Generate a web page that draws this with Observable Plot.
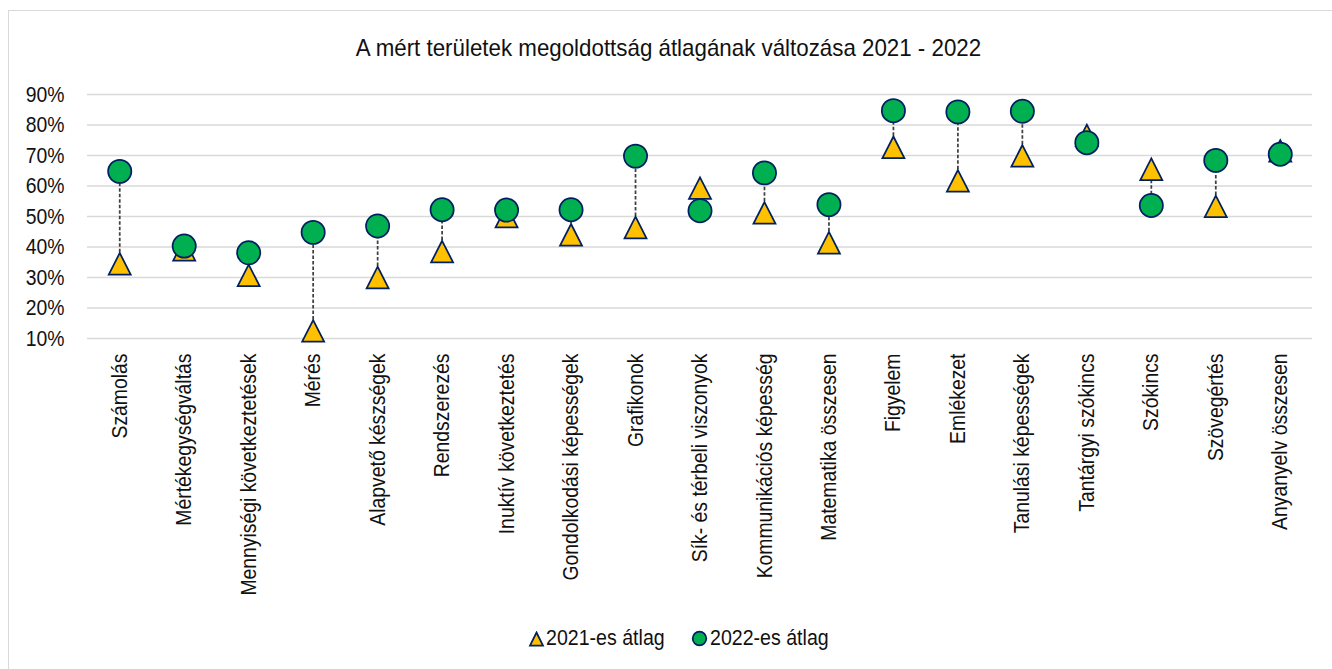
<!DOCTYPE html>
<html>
<head>
<meta charset="utf-8">
<script src="https://cdn.jsdelivr.net/npm/d3@7"></script>
<script src="https://cdn.jsdelivr.net/npm/@observablehq/plot@0.6"></script>
<style>
  html, body { margin: 0; padding: 0; background: #fff; overflow: hidden; width: 1332px; height: 669px; }
  body { position: relative; font-family: "Liberation Sans", Arial, sans-serif; color: #111; }
  #frame { position: absolute; left: 8px; top: 10px; width: 1400px; height: 800px; border: 1px solid #d9d9d9; box-sizing: border-box; }
  #chart { position: absolute; left: 0; top: 0; }
  #title { position: absolute; left: 0; width: 1337px; top: 36px; text-align: center; font-size: 24px; line-height: 24px; white-space: nowrap; transform: scaleX(0.93); transform-origin: 668px 0; }
  .leg-text { position: absolute; top: 627px; font-size: 22px; line-height: 22px; white-space: nowrap; transform: scaleX(0.89); transform-origin: 0 0; }
  .leg-icon { position: absolute; }
</style>
</head>
<body>
<div id="frame"></div>
<div id="chart"></div>
<div id="title">A mért területek megoldottság átlagának változása 2021 - 2022</div>
<svg class="leg-icon" style="left:528px;top:631px" width="17" height="16"><path d="M8.5,1.5 L15,14.5 L2,14.5 Z" fill="#FFC000" stroke="#002060" stroke-width="1.75"/></svg>
<div class="leg-text" style="left:546px">2021-es átlag</div>
<svg class="leg-icon" style="left:691px;top:630px" width="17" height="17"><circle cx="8.5" cy="8.5" r="6.8" fill="#00B050" stroke="#002060" stroke-width="1.75"/></svg>
<div class="leg-text" style="left:710px">2022-es átlag</div>
<script>
const categories = ["Számolás","Mértékegységváltás","Mennyiségi következtetések","Mérés","Alapvető készségek","Rendszerezés","Inuktív következtetés","Gondolkodási képességek","Grafikonok","Sík- és térbeli viszonyok","Kommunikációs képesség","Matematika összesen","Figyelem","Emlékezet","Tanulási képességek","Tantárgyi szókincs","Szókincs","Szövegértés","Anyanyelv összesen"];
const avg2021 = [34.5, 39.1, 30.7, 12.5, 30.0, 38.5, 50.0, 44.0, 46.4, 59.3, 51.2, 41.4, 72.7, 61.7, 69.9, 76.6, 65.5, 53.3, 71.5];
const avg2022 = [64.8, 40.3, 38.1, 44.8, 46.9, 52.2, 52.1, 52.2, 69.8, 51.9, 64.3, 53.9, 84.7, 84.3, 84.5, 74.2, 53.6, 68.4, 70.4];
const yTicks = [10, 20, 30, 40, 50, 60, 70, 80, 90];

const rows = categories.map((c, i) => ({cat: c, a: avg2021[i], b: avg2022[i]}));

const triangle = {
  draw(ctx, size) {
    const r = Math.sqrt(size / Math.PI);
    const h = r * 0.98;
    ctx.moveTo(0, -h);
    ctx.lineTo(r, h);
    ctx.lineTo(-r, h);
    ctx.closePath();
  }
};

const chart = Plot.plot({
  width: 1332,
  height: 600,
  marginLeft: 87,
  marginRight: 20,
  marginTop: 94,
  marginBottom: 262,
  style: {fontFamily: "'Liberation Sans', Arial, sans-serif", color: "#111", background: "transparent", overflow: "visible"},
  x: {type: "point", domain: categories, padding: 0.5, round: false},
  y: {domain: [10, 90]},
  marks: [
    Plot.ruleY(yTicks, {stroke: "#d9d9d9", strokeWidth: 1.5}),
    Plot.axisY({ticks: yTicks, tickFormat: d => d + "%", tickSize: 0, tickPadding: 23, fontSize: 22, label: null}),
    Plot.axisX({tickRotate: -90, tickSize: 0, tickPadding: 15, fontSize: 22, label: null}),
    Plot.ruleX(rows, {x: "cat", y1: "a", y2: "b", stroke: "#404040", strokeWidth: 1.75, strokeDasharray: "3.5,2"}),
    Plot.dot(rows, {x: "cat", y: "a", symbol: triangle, r: 11, fill: "#FFC000", stroke: "#002060", strokeWidth: 1.75}),
    Plot.dot(rows, {x: "cat", y: "b", r: 11.6, fill: "#00B050", stroke: "#002060", strokeWidth: 1.75})
  ]
});
document.getElementById("chart").appendChild(chart);

// condensed look of the tick labels (text direction only)
chart.querySelectorAll('[aria-label="x-axis tick label"] text, [aria-label="y-axis tick label"] text').forEach(t => {
  const tr = t.getAttribute("transform") || "";
  t.setAttribute("transform", tr + " scale(0.88,1)");
});
</script>
</body>
</html>
